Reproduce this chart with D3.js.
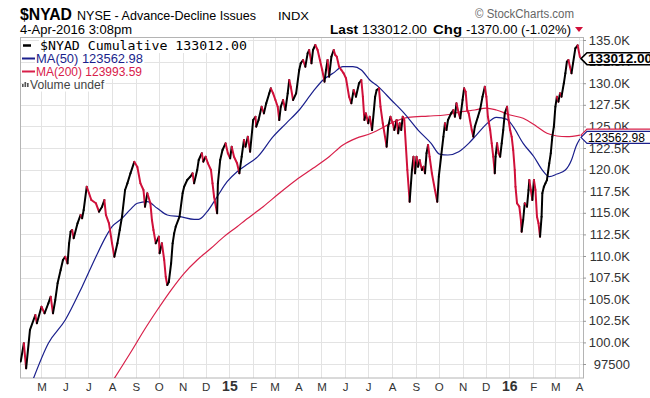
<!DOCTYPE html>
<html><head><meta charset="utf-8">
<script src="https://cdn.jsdelivr.net/npm/d3@7"></script>
<style>
body{margin:0;background:#fff;}
svg{display:block;font-family:"Liberation Sans",Arial,sans-serif;}
</style>
</head><body>
<svg id="c" width="650" height="398"></svg>
<script>
// ---------------- data ----------------
const priceSeries = [
["2014-04-04",97800],["2014-04-08",99900],["2014-04-11",97000],["2014-04-16",101440],["2014-04-23",103170],["2014-04-25",102210],
["2014-05-01",104130],["2014-05-05",103370],["2014-05-10",104530],["2014-05-13",105290],["2014-05-16",103370],["2014-05-19",104910],
["2014-05-22",106840],["2014-05-26",108380],["2014-05-29",109540],["2014-06-01",109920],["2014-06-04",109150],["2014-06-06",111470],
["2014-06-08",112810],["2014-06-10",113010],["2014-06-12",112050],["2014-06-17",113780],["2014-06-21",114750],["2014-06-23",114360],
["2014-06-25",115320],["2014-06-29",118020],["2014-07-02",117260],["2014-07-05",116480],["2014-07-11",116100],["2014-07-15",115130],
["2014-07-19",115710],["2014-07-22",116480],["2014-07-24",114750],["2014-07-28",113780],["2014-08-01",111470],["2014-08-04",109920],
["2014-08-08",111470],["2014-08-11",113010],["2014-08-14",114550],["2014-08-18",117640],["2014-08-21",118410],["2014-08-25",119570],
["2014-08-30",120900],["2014-09-03",120300],["2014-09-07",118410],["2014-09-11",117640],["2014-09-13",115710],["2014-09-16",117260],
["2014-09-20",116100],["2014-09-22",114170],["2014-09-24",113010],["2014-09-27",111470],["2014-10-01",112240],["2014-10-02",110310],
["2014-10-05",111470],["2014-10-08",109540],["2014-10-10",107600],["2014-10-12",106640],["2014-10-14",106990],["2014-10-17",109150],
["2014-10-19",111470],["2014-10-21",112620],["2014-10-23",113390],["2014-10-28",114550],["2014-11-01",117260],["2014-11-03",118020],
["2014-11-07",118800],["2014-11-11",119180],["2014-11-14",119570],["2014-11-16",118410],["2014-11-20",119950],["2014-11-22",121110],
["2014-11-26",121890],["2014-11-28",120920],["2014-12-01",121490],["2014-12-04",120730],["2014-12-08",119950],["2014-12-10",118410],
["2014-12-12",116860],["2014-12-16",114940],["2014-12-17",118410],["2014-12-20",121110],["2014-12-23",122270],["2014-12-27",123040],
["2014-12-30",121890],["2015-01-02",121310],["2015-01-04",122650],["2015-01-07",121490],["2015-01-11",120730],["2015-01-14",119570],
["2015-01-17",121490],["2015-01-20",123430],["2015-01-22",122650],["2015-01-25",123810],["2015-01-28",122070],["2015-02-01",125740],
["2015-02-04",126120],["2015-02-05",124970],["2015-02-08",125740],["2015-02-12",127280],["2015-02-15",126510],["2015-02-18",127670],
["2015-02-22",128830],["2015-02-24",129410],["2015-02-27",128830],["2015-03-02",128060],["2015-03-05",127280],["2015-03-07",125740],
["2015-03-09",127280],["2015-03-12",128060],["2015-03-15",126900],["2015-03-18",128830],["2015-03-20",130370],["2015-03-22",129600],
["2015-03-25",128060],["2015-03-29",128830],["2015-04-02",131530],["2015-04-04",132300],["2015-04-07",132690],["2015-04-10",131910],
["2015-04-13",133460],["2015-04-15",133840],["2015-04-18",132300],["2015-04-20",133840],["2015-04-23",134420],["2015-04-26",133840],
["2015-04-29",132690],["2015-05-02",131530],["2015-05-05",130180],["2015-05-07",131530],["2015-05-09",132690],["2015-05-11",130760],
["2015-05-14",133070],["2015-05-17",133840],["2015-05-19",133260],["2015-05-21",133070],["2015-05-24",131910],["2015-05-27",131530],
["2015-05-30",131140],["2015-06-02",130570],["2015-06-06",128440],["2015-06-09",127670],["2015-06-12",129210],["2015-06-15",128440],
["2015-06-19",129990],["2015-06-22",130370],["2015-06-24",128440],["2015-06-26",125740],["2015-06-28",126510],["2015-07-01",125360],
["2015-07-03",126120],["2015-07-06",124580],["2015-07-10",128440],["2015-07-12",129210],["2015-07-15",129410],["2015-07-17",127280],
["2015-07-20",125360],["2015-07-25",122650],["2015-07-27",124970],["2015-07-30",126120],["2015-08-02",125360],["2015-08-04",124580],
["2015-08-07",125740],["2015-08-09",124200],["2015-08-11",125360],["2015-08-13",124580],["2015-08-15",126120],["2015-08-17",125740],
["2015-08-21",119950],["2015-08-24",116280],["2015-08-27",119950],["2015-08-29",121490],["2015-08-31",119570],["2015-09-02",121490],
["2015-09-04",120340],["2015-09-06",121110],["2015-09-09",119950],["2015-09-11",120340],["2015-09-13",119570],["2015-09-15",121890],
["2015-09-17",122850],["2015-09-19",121490],["2015-09-22",119570],["2015-09-26",117640],["2015-09-29",116280],["2015-10-01",119180],
["2015-10-04",121490],["2015-10-07",123810],["2015-10-09",125360],["2015-10-11",124580],["2015-10-13",125740],["2015-10-17",126510],
["2015-10-20",126900],["2015-10-22",126120],["2015-10-24",127670],["2015-10-27",126510],["2015-10-29",125930],["2015-11-01",128060],
["2015-11-03",129410],["2015-11-05",129020],["2015-11-07",126900],["2015-11-09",126510],["2015-11-13",124580],["2015-11-15",123810],
["2015-11-17",124970],["2015-11-21",126120],["2015-11-24",127000],["2015-11-27",128440],["2015-11-30",129600],["2015-12-02",128440],
["2015-12-04",126120],["2015-12-07",124580],["2015-12-09",123040],["2015-12-11",121490],["2015-12-13",119570],["2015-12-14",121490],
["2015-12-16",123040],["2015-12-18",121890],["2015-12-20",121490],["2015-12-22",123040],["2015-12-24",124580],["2015-12-26",126510],
["2015-12-29",127280],["2015-12-31",125740],["2016-01-02",124580],["2016-01-04",123810],["2016-01-06",122270],["2016-01-08",119950],
["2016-01-09",118020],["2016-01-11",116100],["2016-01-14",115710],["2016-01-16",114170],["2016-01-17",112810],["2016-01-19",114170],
["2016-01-21",116100],["2016-01-24",115710],["2016-01-26",117640],["2016-01-27",118800],["2016-01-29",117640],["2016-01-31",116480],
["2016-02-02",118800],["2016-02-04",117640],["2016-02-06",114550],["2016-02-08",113780],["2016-02-10",112240],["2016-02-12",114550],
["2016-02-13",117260],["2016-02-15",118020],["2016-02-17",118410],["2016-02-19",118800],["2016-02-22",120730],["2016-02-24",121890],
["2016-02-26",123810],["2016-02-28",124970],["2016-03-01",127280],["2016-03-03",128440],["2016-03-05",127860],["2016-03-07",128830],
["2016-03-09",128440],["2016-03-12",129990],["2016-03-14",131140],["2016-03-16",132490],["2016-03-18",132690],["2016-03-20",131910],
["2016-03-22",131140],["2016-03-24",132300],["2016-03-27",134040],["2016-03-30",134382],["2016-04-02",133012]
];
const ma50Series = [
["2014-04-20",95700],["2014-05-10",99900],["2014-06-01",102590],["2014-06-23",106450],["2014-07-11",109920],["2014-07-24",112240],
["2014-08-01",113390],["2014-08-14",114360],["2014-08-25",115400],["2014-09-03",116100],["2014-09-16",116290],["2014-09-29",115520],
["2014-10-12",114750],["2014-10-29",114550],["2014-11-16",114240],["2014-11-22",114240],["2014-12-03",115130],["2014-12-16",116860],
["2014-12-29",118600],["2015-01-11",119760],["2015-01-23",120530],["2015-02-07",121500],["2015-02-27",123810],["2015-03-16",125360],
["2015-04-02",126900],["2015-04-20",129020],["2015-05-03",130370],["2015-05-16",131140],["2015-05-29",131910],["2015-06-11",131910],
["2015-06-22",131530],["2015-07-03",130370],["2015-07-14",129600],["2015-07-31",128060],["2015-08-17",126510],["2015-09-04",124580],
["2015-09-21",123040],["2015-10-02",121800],["2015-10-13",121690],["2015-10-27",122070],["2015-11-09",123040],["2015-11-19",124000],
["2015-12-02",125260],["2015-12-15",126050],["2015-12-29",125820],["2016-01-06",124970],["2016-01-19",123040],["2016-02-02",121490],
["2016-02-13",119950],["2016-02-22",119180],["2016-03-03",119490],["2016-03-14",119950],["2016-03-22",121110],["2016-03-28",122700],
["2016-04-02",123563]
];
const ma200Series = [
["2014-08-03",95700],["2014-08-25",98800],["2014-09-12",101440],["2014-09-29",103750],["2014-10-17",106060],["2014-11-03",108000],
["2014-11-20",109540],["2014-12-08",110890],["2014-12-25",112240],["2015-01-11",113390],["2015-01-22",114170],["2015-02-14",115710],
["2015-03-07",117260],["2015-03-29",118800],["2015-04-20",120150],["2015-05-11",121490],["2015-05-29",122850],["2015-06-15",123620],
["2015-07-05",124200],["2015-07-14",124580],["2015-08-04",125550],["2015-08-22",126050],["2015-09-17",126200],["2015-10-09",126320],
["2015-10-31",126700],["2015-11-17",126900],["2015-12-02",127120],["2015-12-15",126900],["2016-01-02",126320],["2016-01-19",125940],
["2016-02-06",124970],["2016-02-19",124200],["2016-03-03",123890],["2016-03-16",123810],["2016-04-02",123994]
];
const yTickValues = [97500,100000,102500,105000,107500,110000,112500,115000,117500,120000,122500,125000,127500,130000,132500,135000];
const yTickLabels = ["97500","100.0K","102.5K","105.0K","107.5K","110.0K","112.5K","115.0K","117.5K","120.0K","122.5K","125.0K","127.5K","130.0K","132.5K","135.0K"];
const monthLabels = ["M","J","J","A","S","O","N","D","15","F","M","A","M","J","J","A","S","O","N","D","16","F","M","A"];
const lastValues = {price:"133012.00", ma50:"123562.98", ma200:"123993.59"};

// ---------------- setup ----------------
const parse = d3.timeParse("%Y-%m-%d");
const toPts = s => s.map(d => ({date: parse(d[0]), v: d[1]}));
const price = toPts(priceSeries), ma50 = toPts(ma50Series), ma200 = toPts(ma200Series);

const L = 20, R = 583, T = 37.5, B = 378;
const x = d3.scaleTime().domain([new Date(2014,3,3), new Date(2016,3,6)]).range([L, R]);
const y = d3.scaleLinear().domain([95880, 135290]).range([B, T]);

const svg = d3.select("#c");
const RED = "#d0103a", BLUE = "#1a1f8c", MARED = "#d8204a";

svg.append("defs").append("clipPath").attr("id","plot")
  .append("rect").attr("x",L).attr("y",T).attr("width",R-L).attr("height",B-T);

// grid
const grid = svg.append("g");
grid.selectAll("line.h").data(yTickValues).join("line")
  .attr("x1",L).attr("x2",R).attr("y1",d=>Math.round(y(d))+0.5).attr("y2",d=>Math.round(y(d))+0.5)
  .attr("stroke","#e3e3e3").attr("stroke-width",1);
const monthDates = d3.timeMonth.range(new Date(2014,4,1), new Date(2016,3,2));
grid.selectAll("line.v").data(monthDates).join("line")
  .attr("y1",T).attr("y2",B).attr("x1",d=>Math.round(x(d))+0.5).attr("x2",d=>Math.round(x(d))+0.5)
  .attr("stroke","#e3e3e3").attr("stroke-width",1);

svg.append("rect").attr("x",L+0.5).attr("y",T).attr("width",R-L).attr("height",B-T)
  .attr("fill","none").attr("stroke","#b4b4b4");

// ---------------- legend (white behind text) ----------------
const leg = svg.append("g");
function legText(xp, yp, txt, opts){
  const t = leg.append("text").attr("x",xp).attr("y",yp).text(txt)
    .attr("font-size",opts.size).attr("fill",opts.fill)
    .attr("font-family",opts.family||"'Liberation Sans',Arial,sans-serif");
  if(opts.len) t.attr("textLength",opts.len).attr("lengthAdjust","spacingAndGlyphs");
  const bb = t.node().getBBox();
  leg.insert("rect","text").attr("x",bb.x-1).attr("y",bb.y).attr("width",bb.width+2).attr("height",bb.height).attr("fill","#fff");
  return t;
}

// ---------------- series ----------------
const plot = svg.append("g").attr("clip-path","url(#plot)");
const lineGen = d3.line().x(d=>x(d.date)).y(d=>y(d.v)).curve(d3.curveMonotoneX);
plot.append("path").datum(ma200).attr("d",lineGen).attr("fill","none").attr("stroke",MARED).attr("stroke-width",1.2);
plot.append("path").datum(ma50).attr("d",lineGen).attr("fill","none").attr("stroke",BLUE).attr("stroke-width",1.2);
const segs = d3.pairs(price);
plot.selectAll("line.p").data(segs).join("line")
  .attr("x1",d=>x(d[0].date)).attr("y1",d=>y(d[0].v))
  .attr("x2",d=>x(d[1].date)).attr("y2",d=>y(d[1].v))
  .attr("stroke",d=>d[1].v>=d[0].v?"#000":RED)
  .attr("stroke-width",2).attr("stroke-linecap","round");

// legend content
leg.raise();
leg.append("line").attr("x1",23).attr("x2",31).attr("y1",45.5).attr("y2",45.5).attr("stroke","#000").attr("stroke-width",2.5);
legText(40, 50, "$NYAD Cumulative " + lastValues.price, {size:13, fill:"#000", family:"'DejaVu Sans Mono',monospace", len:207});
leg.append("line").attr("x1",22).attr("x2",35).attr("y1",58.5).attr("y2",58.5).attr("stroke",BLUE).attr("stroke-width",2);
legText(36, 63, "MA(50) " + lastValues.ma50, {size:12, fill:BLUE, len:107});
leg.append("line").attr("x1",22).attr("x2",35).attr("y1",71.5).attr("y2",71.5).attr("stroke",MARED).attr("stroke-width",2);
legText(36, 76, "MA(200) " + lastValues.ma200, {size:12, fill:MARED, len:106});
[[22,84,3],[24.5,82,5],[27,83,4]].forEach(b=>{
  leg.append("rect").attr("x",b[0]).attr("y",b[1]).attr("width",1.6).attr("height",b[2]).attr("fill","#555");
});
legText(30, 88.5, "Volume undef", {size:12, fill:"#444", len:74});

// ---------------- axes ----------------
const yAxis = svg.append("g").attr("transform",`translate(${R},0)`)
  .call(d3.axisRight(y).tickValues(yTickValues).tickFormat((d,i)=>yTickLabels[i]).tickSize(3).tickPadding(2));
yAxis.select(".domain").remove();
yAxis.selectAll(".tick line").attr("stroke","#999");
yAxis.selectAll(".tick text").attr("font-size",13).attr("fill","#333")
  .attr("font-family","'Liberation Sans',Arial,sans-serif").attr("text-anchor","end").attr("x",47);

const xAxis = svg.append("g").attr("transform",`translate(0,${B})`)
  .call(d3.axisBottom(x).tickValues(monthDates).tickFormat((d,i)=>monthLabels[i]).tickSize(0).tickPadding(9));
xAxis.select(".domain").remove();
xAxis.selectAll(".tick text")
  .attr("font-family","'Liberation Sans',Arial,sans-serif")
  .attr("fill","#333")
  .attr("font-size",(d,i)=>/\d/.test(monthLabels[i])?14:11.5)
  .attr("font-weight",(d,i)=>/\d/.test(monthLabels[i])?"bold":"normal")
  .attr("dy",(d,i)=>/\d/.test(monthLabels[i])?"0.62em":"0.71em")
  .attr("y",(d,i)=>/\d/.test(monthLabels[i])?4:5);

// ---------------- value tags ----------------
function tag(yc, txt, stroke, sw, bold){
  const g = svg.append("g");
  const x0 = R - 2, h = 12;
  g.append("path")
    .attr("d",`M${x0},${yc} L${x0+6},${yc-h/2} L${x0+72},${yc-h/2} L${x0+72},${yc+h/2} L${x0+6},${yc+h/2} Z`)
    .attr("fill","#fff").attr("stroke",stroke).attr("stroke-width",sw);
  g.append("text").attr("x",x0+7).attr("y",yc+4.5).text(txt)
    .attr("font-size",12.5).attr("font-weight",bold?"bold":"normal").attr("fill","#000")
    .attr("textLength",bold?64:57).attr("lengthAdjust","spacingAndGlyphs");
}
tag(y(+lastValues.ma200), lastValues.ma200, MARED, 1.2, false);
tag(y(+lastValues.ma50)-1.5, lastValues.ma50, BLUE, 1.2, false);
tag(y(+lastValues.price)+1.5, lastValues.price, "#000", 1.6, true);

// ---------------- header ----------------
const hdr = svg.append("g").attr("font-family","'Liberation Sans',Arial,sans-serif");
hdr.append("text").attr("x",20).attr("y",20).text("$NYAD").attr("font-size",17).attr("font-weight","bold")
  .attr("textLength",52).attr("lengthAdjust","spacingAndGlyphs").attr("fill","#000");
hdr.append("text").attr("x",77).attr("y",20).text("NYSE - Advance-Decline Issues").attr("font-size",13)
  .attr("textLength",179).attr("lengthAdjust","spacingAndGlyphs").attr("fill","#000");
hdr.append("text").attr("x",278).attr("y",20).text("INDX").attr("font-size",11.5)
  .attr("textLength",31).attr("lengthAdjust","spacingAndGlyphs").attr("fill","#000");
hdr.append("text").attr("x",475).attr("y",18).text("\u00A9 StockCharts.com").attr("font-size",12.5)
  .attr("textLength",99).attr("lengthAdjust","spacingAndGlyphs").attr("fill","#666");
hdr.append("text").attr("x",20).attr("y",34).text("4-Apr-2016 3:08pm").attr("font-size",12.5)
  .attr("textLength",112).attr("lengthAdjust","spacingAndGlyphs").attr("fill","#000");
hdr.append("text").attr("x",330).attr("y",34).text("Last").attr("font-size",13).attr("font-weight","bold")
  .attr("textLength",28).attr("lengthAdjust","spacingAndGlyphs");
hdr.append("text").attr("x",362).attr("y",34).text("133012.00").attr("font-size",12)
  .attr("textLength",65).attr("lengthAdjust","spacingAndGlyphs");
hdr.append("text").attr("x",433).attr("y",34).text("Chg").attr("font-size",13).attr("font-weight","bold")
  .attr("textLength",29).attr("lengthAdjust","spacingAndGlyphs");
hdr.append("text").attr("x",466).attr("y",34).text("-1370.00 (-1.02%)").attr("font-size",12)
  .attr("textLength",105).attr("lengthAdjust","spacingAndGlyphs");
hdr.append("path").attr("d","M575,27 L583,27 L579,32 Z").attr("fill",RED);
</script>
</body></html>
